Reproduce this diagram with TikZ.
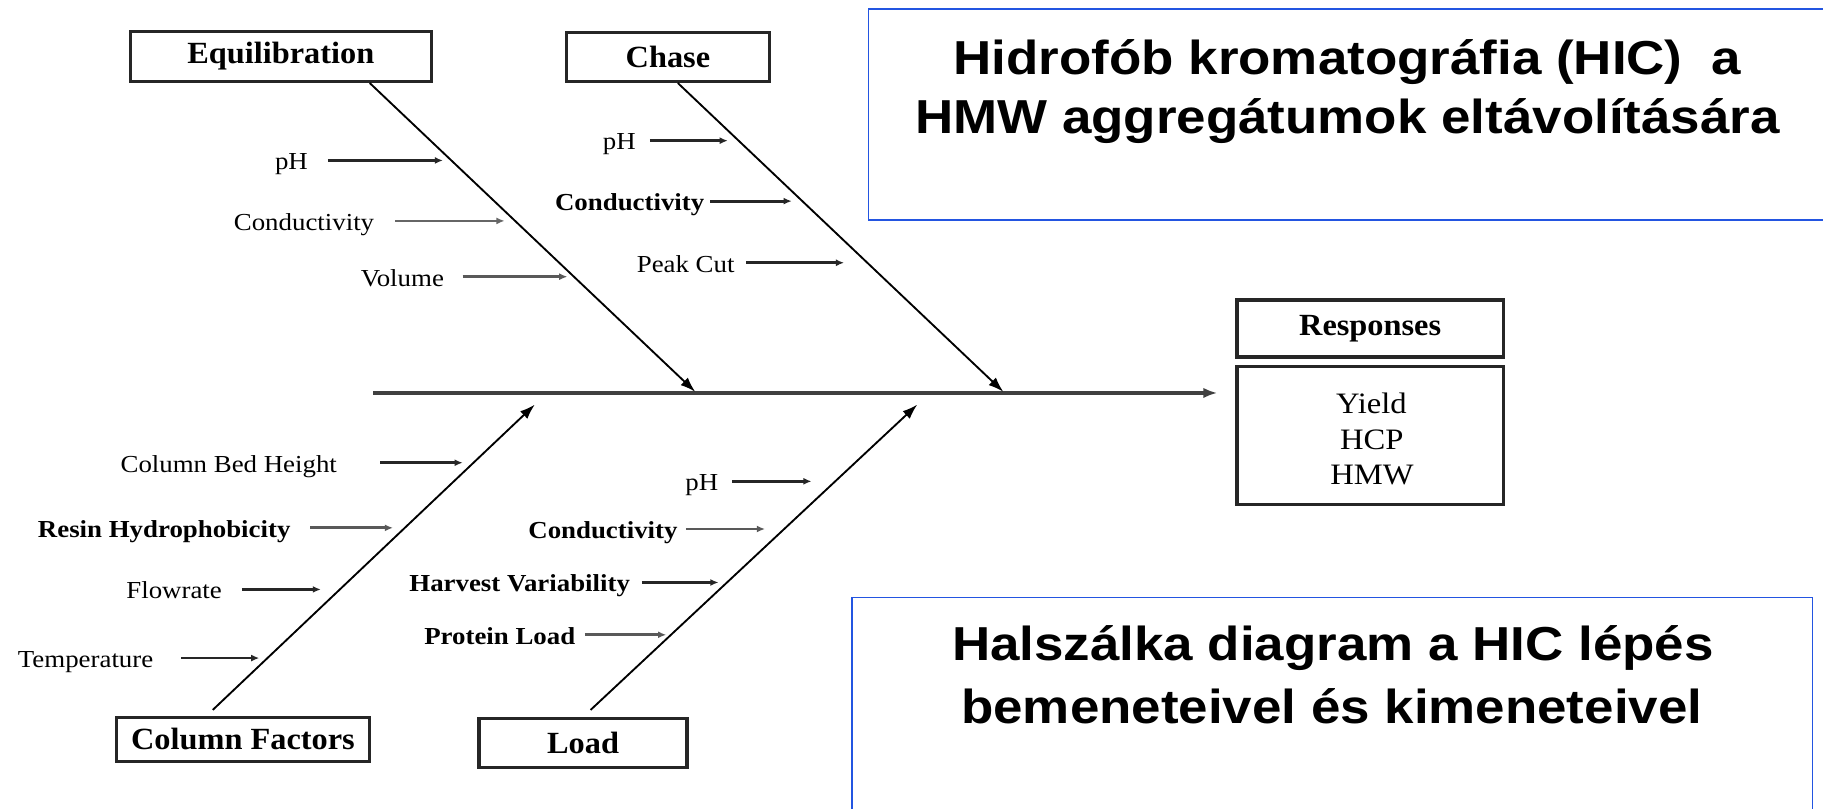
\documentclass[tikz,border=0pt]{standalone}
\usepackage{fontspec}
\setmainfont{Liberation Serif}
\newfontfamily\labelfont{Liberation Serif}[FakeStretch=1.1]
\newfontfamily\titlefont{Liberation Serif}[FakeStretch=1.05]
\newfontfamily\headfont{Liberation Sans}[FakeStretch=1.11]
\usetikzlibrary{arrows.meta}
\definecolor{frameblue}{RGB}{35,85,225}

\begin{document}
\begin{tikzpicture}[x=1pt,y=-1pt,
  catbox/.style={draw=black!85, line width=2.8pt, inner sep=0pt,
    font=\titlefont\fontsize{26.5}{30}\selectfont\bfseries},
  cause/.style={anchor=base east, inner sep=0pt,
    font=\labelfont\fontsize{21}{24}\selectfont},
  boldcause/.style={cause, font=\labelfont\fontsize{21}{24}\selectfont\bfseries},
  response/.style={anchor=base, inner sep=0pt,
    font=\labelfont\fontsize{25.5}{28}\selectfont},
  subarrow/.style={draw=black!85, line width=2.4pt, -{Latex[length=7pt,width=6pt]}},
  spine/.style={draw=black, line width=1.6pt, -{Latex[length=13pt,width=9pt]}},
  mainline/.style={draw=black!75, line width=3.2pt, -{Latex[length=12pt,width=9pt]}},
  headline/.style={anchor=base, inner sep=0pt,
    font=\headfont\fontsize{41}{48}\selectfont\bfseries},
  infobox/.style={draw=frameblue, line width=1.5pt},
]
\useasboundingbox (0,0) rectangle (1568,695);
\fill[white] (0,0) rectangle (1568,695);

% category boxes
\node[catbox, minimum width=259pt, minimum height=43pt] (equil) at (241.5,48.5) {Equilibration};
\node[catbox, minimum width=175pt, minimum height=42pt] (chase) at (574.5,49) {Chase};
\node[catbox, minimum width=218pt, minimum height=38pt] (cfac) at (209,636) {Column Factors};
\node[catbox, minimum width=179pt, minimum height=42pt] (load) at (501.5,639) {Load};

% responses
\node[catbox, minimum width=229pt, minimum height=49pt] (resp) at (1178.5,282.5) {Responses};
\node[draw=black!85, line width=2.8pt, minimum width=229pt, minimum height=119pt] (outs) at (1178.5,374.5) {};
\node[response] (yield) at (1179.5,356) {Yield};
\node[response] (hcp) at (1180,386.5) {HCP};
\node[response] (hmw) at (1180,417) {HMW};

% spine tips on the main line
\coordinate (eq-t) at (598,337);
\coordinate (ch-t) at (863,337);
\coordinate (cf-t) at (460,348);
\coordinate (ld-t) at (789,348);
\coordinate (ml-s) at (321,338);
\coordinate (ml-t) at (1047,338);

\draw[mainline] (ml-s) -- (ml-t);
\draw[spine] ([xshift=76.5pt]equil.south) -- (eq-t);
\draw[spine] ([xshift=8.5pt]chase.south) -- (ch-t);
\draw[spine] ([xshift=-26pt,yshift=5pt]cfac.north) -- (cf-t);
\draw[spine] ([xshift=6.5pt,yshift=6pt]load.north) -- (ld-t);

% Equilibration causes
\node[cause] (eqph) at (265,146) {pH};
\node[cause] (eqcond) at (322,198) {Conductivity};
\node[cause] (eqvol) at (382,246) {Volume};
\coordinate (eqph-e) at (381,138);
\coordinate (eqcond-e) at (434,190);
\coordinate (eqvol-e) at (488,238);
\draw[subarrow] ([xshift=17pt,yshift=8pt]eqph.base east) -- (eqph-e);
\draw[subarrow, draw=black!60] ([xshift=18pt,yshift=8pt]eqcond.base east) -- (eqcond-e);
\draw[subarrow, draw=black!65] ([xshift=16pt,yshift=8pt]eqvol.base east) -- (eqvol-e);

% Chase causes
\node[cause] (chph) at (547,129) {pH};
\node[boldcause] (chcond) at (606,181) {Conductivity};
\node[cause] (chpeak) at (632,234) {Peak Cut};
\coordinate (chph-e) at (626,121);
\coordinate (chcond-e) at (681,173);
\coordinate (chpeak-e) at (726,226);
\draw[subarrow] ([xshift=12pt,yshift=8pt]chph.base east) -- (chph-e);
\draw[subarrow] ([xshift=5pt,yshift=8pt]chcond.base east) -- (chcond-e);
\draw[subarrow] ([xshift=10pt,yshift=8pt]chpeak.base east) -- (chpeak-e);

% Column factor causes
\node[cause] (cfbed) at (290,406) {Column Bed Height};
\node[boldcause] (cfresin) at (250,462) {Resin Hydrophobicity};
\node[cause] (cfflow) at (191,515) {Flowrate};
\node[cause] (cftemp) at (132,574) {Temperature};
\coordinate (cfbed-e) at (398,398);
\coordinate (cfresin-e) at (338,454);
\coordinate (cfflow-e) at (276,507);
\coordinate (cftemp-e) at (223,566);
\draw[subarrow] ([xshift=37pt,yshift=8pt]cfbed.base east) -- (cfbed-e);
\draw[subarrow, draw=black!65] ([xshift=17pt,yshift=8pt]cfresin.base east) -- (cfresin-e);
\draw[subarrow] ([xshift=17pt,yshift=8pt]cfflow.base east) -- (cfflow-e);
\draw[subarrow] ([xshift=24pt,yshift=8pt]cftemp.base east) -- (cftemp-e);

% Load causes
\node[cause] (ldph) at (618,422) {pH};
\node[boldcause] (ldcond) at (583,463) {Conductivity};
\node[boldcause] (ldharv) at (542,509) {Harvest Variability};
\node[boldcause] (ldprot) at (495,554) {Protein Load};
\coordinate (ldph-e) at (698,414);
\coordinate (ldcond-e) at (658,455);
\coordinate (ldharv-e) at (618,501);
\coordinate (ldprot-e) at (573,546);
\draw[subarrow] ([xshift=12pt,yshift=8pt]ldph.base east) -- (ldph-e);
\draw[subarrow, draw=black!65] ([xshift=7pt,yshift=8pt]ldcond.base east) -- (ldcond-e);
\draw[subarrow] ([xshift=10pt,yshift=8pt]ldharv.base east) -- (ldharv-e);
\draw[subarrow, draw=black!65] ([xshift=8pt,yshift=8pt]ldprot.base east) -- (ldprot-e);

% title boxes
\draw[infobox] (747,8) rectangle (1590,189);
\node[headline] (head1) at (1159,64.5) {Hidrofób kromatográfia (HIC)~ a};
\node[headline] (head2) at (1159,115) {HMW aggregátumok eltávolítására};

\draw[infobox] (733,514) rectangle (1559,720);
\node[headline] (cap1) at (1146.5,568) {Halszálka diagram a HIC lépés};
\node[headline] (cap2) at (1145.5,622) {bemeneteivel és kimeneteivel};
\end{tikzpicture}
\end{document}
